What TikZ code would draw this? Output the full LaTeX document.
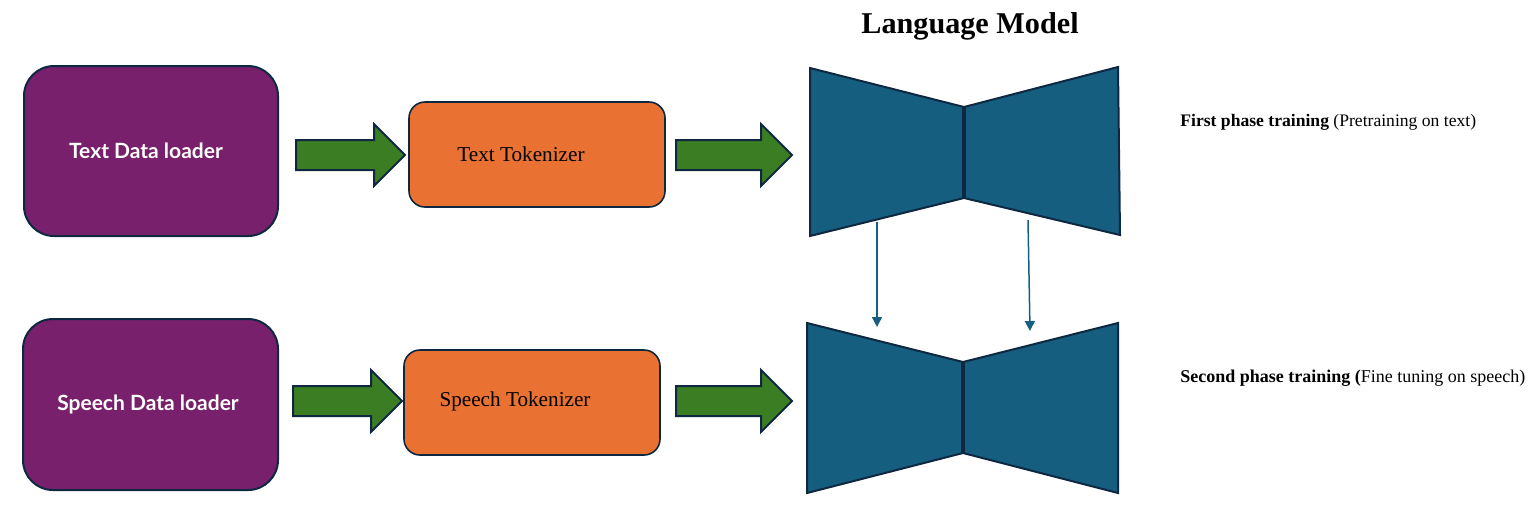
\documentclass[tikz,border=0pt]{standalone}
\usepackage{fontspec}
\setmainfont{Liberation Serif}
\newfontfamily\boxfont{Lato}
\usetikzlibrary{arrows.meta}
\definecolor{loaderpurple}{HTML}{78206B}
\definecolor{tokorange}{HTML}{E97132}
\definecolor{lmteal}{HTML}{165E7F}
\definecolor{edgenavy}{HTML}{0E2841}
\definecolor{arrgreen}{HTML}{3B7D23}
\definecolor{linkblue}{HTML}{156082}
\tikzset{
  loaderbox/.style={draw=edgenavy, line width=1pt, fill=loaderpurple, rounded corners=15pt,
    minimum width=127pt, minimum height=85pt, text=white, font=\boxfont\bfseries\fontsize{10.5}{12}\selectfont},
  tokbox/.style={draw=edgenavy, line width=0.8pt, fill=tokorange, rounded corners=8pt,
    minimum width=128pt, minimum height=52.5pt},
  toktext/.style={font=\fontsize{10.6}{12}\selectfont, text=black},
  bowtie/.style={draw=edgenavy, line width=1pt, fill=lmteal, line join=miter},
  divider/.style={draw=edgenavy, line width=1.6pt},
  blockarr/.pic={
    \path[draw=edgenavy, line width=1pt, fill=arrgreen, line join=miter]
      (0,-15) -- (\pgfkeysvalueof{/tikz/arrlen}-31,-15) -- (\pgfkeysvalueof{/tikz/arrlen}-31,-31)
      -- (\pgfkeysvalueof{/tikz/arrlen},0) -- (\pgfkeysvalueof{/tikz/arrlen}-31,31)
      -- (\pgfkeysvalueof{/tikz/arrlen}-31,15) -- (0,15) -- cycle;
  },
  arrlen/.initial=108,
  link/.style={draw=linkblue, line width=0.75pt, -{Triangle[length=5pt,width=5pt]}},
  phase/.style={anchor=west, inner sep=0pt, font=\fontsize{8.8}{10}\selectfont}
}
\begin{document}
\begin{tikzpicture}[x=0.5pt,y=-0.5pt]
\useasboundingbox (0,0) rectangle (1535,511);

% title
\node[font=\bfseries\fontsize{15.1}{18}\selectfont] (title) at (970,26) {Language Model};

% data loaders
\node[loaderbox] (tdl) at (151,151) {Text Data loader\kern5pt};
\node[loaderbox, minimum width=127.5pt, minimum height=85.5pt] (sdl) at (150.5,404.5) {Speech Data loader\kern2.5pt};

% tokenizers
\node[tokbox] (ttok) at (537,154.5) {};
\node[toktext] (ttoklbl) at (521,154) {Text Tokenizer};
\node[tokbox] (stok) at (532,402.5) {};
\node[toktext] (stoklbl) at (515,401) {Speech Tokenizer};

% block arrows
\pic[arrlen=109] at (296,155) {blockarr};
\pic[arrlen=116] at (676,155) {blockarr};
\pic[arrlen=109] at (293,401) {blockarr};
\pic[arrlen=116] at (676,401) {blockarr};

% top bowtie
\path[bowtie] (810,68) -- (964,107) -- (964,198) -- (810,236) -- cycle;
\path[bowtie] (964,107) -- (1118,67) -- (1120,235) -- (964,198) -- cycle;
\draw[divider] (964,107) -- (964,198);
% bottom bowtie
\path[bowtie] (807,323) -- (963,362) -- (963,453) -- (807,493) -- cycle;
\path[bowtie] (963,362) -- (1118,323) -- (1118,493) -- (963,453) -- cycle;
\draw[divider] (963,362) -- (963,453);

% links between the two models
\coordinate (la) at (877,222);
\coordinate (lb) at (877,327);
\coordinate (ra) at (1028,220);
\coordinate (rb) at (1030,331);
\draw[link] (la) -- (lb);
\draw[link] (ra) -- (rb);

% phase labels
\node[phase] (p1) at (1180,122) {\textbf{First phase training} (Pretraining on text)};
\node[phase, font=\fontsize{9}{10}\selectfont] (p2) at (1180,378) {\textbf{Second phase training (}Fine tuning on speech)};
\end{tikzpicture}
\end{document}
